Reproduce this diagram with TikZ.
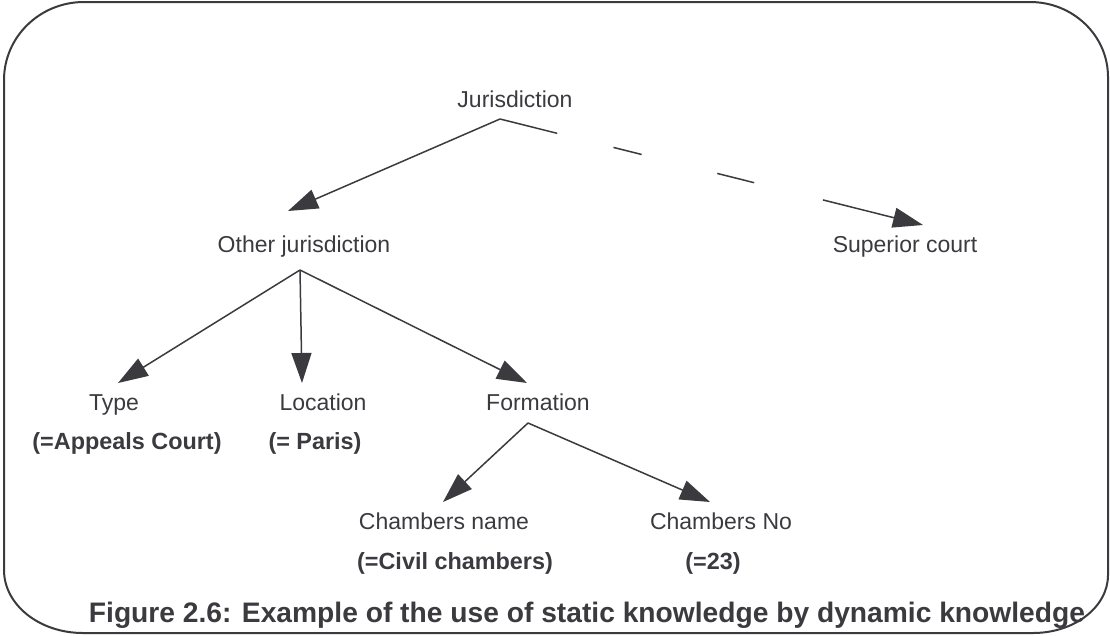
\documentclass[tikz,border=0pt]{standalone}
\usepackage{fontspec}
\setmainfont{Liberation Sans}
\usetikzlibrary{arrows.meta}
\definecolor{ink}{HTML}{3A3A3F}
\begin{document}
\begin{tikzpicture}[x=1pt,y=-1pt,
  lbl/.style={anchor=base, inner sep=0pt, text=ink, font=\fontsize{23}{27}\selectfont},
  val/.style={anchor=base, inner sep=0pt, text=ink, font=\fontsize{23.4}{27}\selectfont\bfseries},
  arr/.style={draw=ink, line width=1.5pt, -{Triangle[length=30pt,width=20pt]}},
  frame/.style={draw=ink, line width=2pt}]
\useasboundingbox (0,0) rectangle (1110,635);
% outer frame with unequal rounded corners
\draw[frame] (84,2) -- (1030,2)
  arc[start angle=-90, end angle=0, x radius=78, y radius=75]
  -- (1108,575)
  arc[start angle=0, end angle=90, x radius=75, y radius=58]
  -- (83,633)
  arc[start angle=90, end angle=180, x radius=79, y radius=63]
  -- (4,80)
  arc[start angle=180, end angle=270, x radius=80, y radius=78]
  -- cycle;

% labels
\node[lbl] (jur) at (515,107) {Jurisdiction};
\node[lbl] (oth) at (304,252) {Other jurisdiction};
\node[lbl] (sup) at (905,252) {Superior court};
\node[lbl] (typ) at (114,410) {Type};
\node[lbl] (loc) at (323,410) {Location};
\node[lbl] (frm) at (538,410) {Formation};
\node[val] (typv) at (127,449) {(=Appeals Court)};
\node[val] (locv) at (315,449) {(= Paris)};
\node[lbl] (chn) at (444,529) {Chambers name};
\node[lbl] (chno) at (721,529) {Chambers No};
\node[val] (chnv) at (455,569) {(=Civil chambers)};
\node[val] (chnov) at (713,569) {(=23)};
\node[anchor=base, inner sep=0pt, text=ink, font=\fontsize{28.2}{32}\selectfont\bfseries] (cap) at (587,622)
  {Figure 2.6: Example of the use of static knowledge by dynamic knowledge};

% junction points below parent labels
\coordinate (jurA) at (500,119);
\coordinate (othA) at (300,270);
\coordinate (frmA) at (528,423);

% arrow ends above child labels
\coordinate (othT) at (288,211);
\coordinate (supT) at (923,225);
\coordinate (typT) at (118,383);
\coordinate (locT) at (302,383);
\coordinate (frmT) at (527,383);
\coordinate (chnT) at (443,502);
\coordinate (chnoT) at (710,502);

\draw[arr] (jurA) -- (othT);
\draw[arr, dash pattern=on 59pt off 58pt on 29pt off 78pt on 38pt off 71pt on 300pt off 10pt] (jurA) -- (supT);
\draw[arr] (othA) -- (typT);
\draw[arr] (othA) -- (locT);
\draw[arr] (othA) -- (frmT);
\draw[arr] (frmA) -- (chnT);
\draw[arr] (frmA) -- (chnoT);
\end{tikzpicture}
\end{document}
